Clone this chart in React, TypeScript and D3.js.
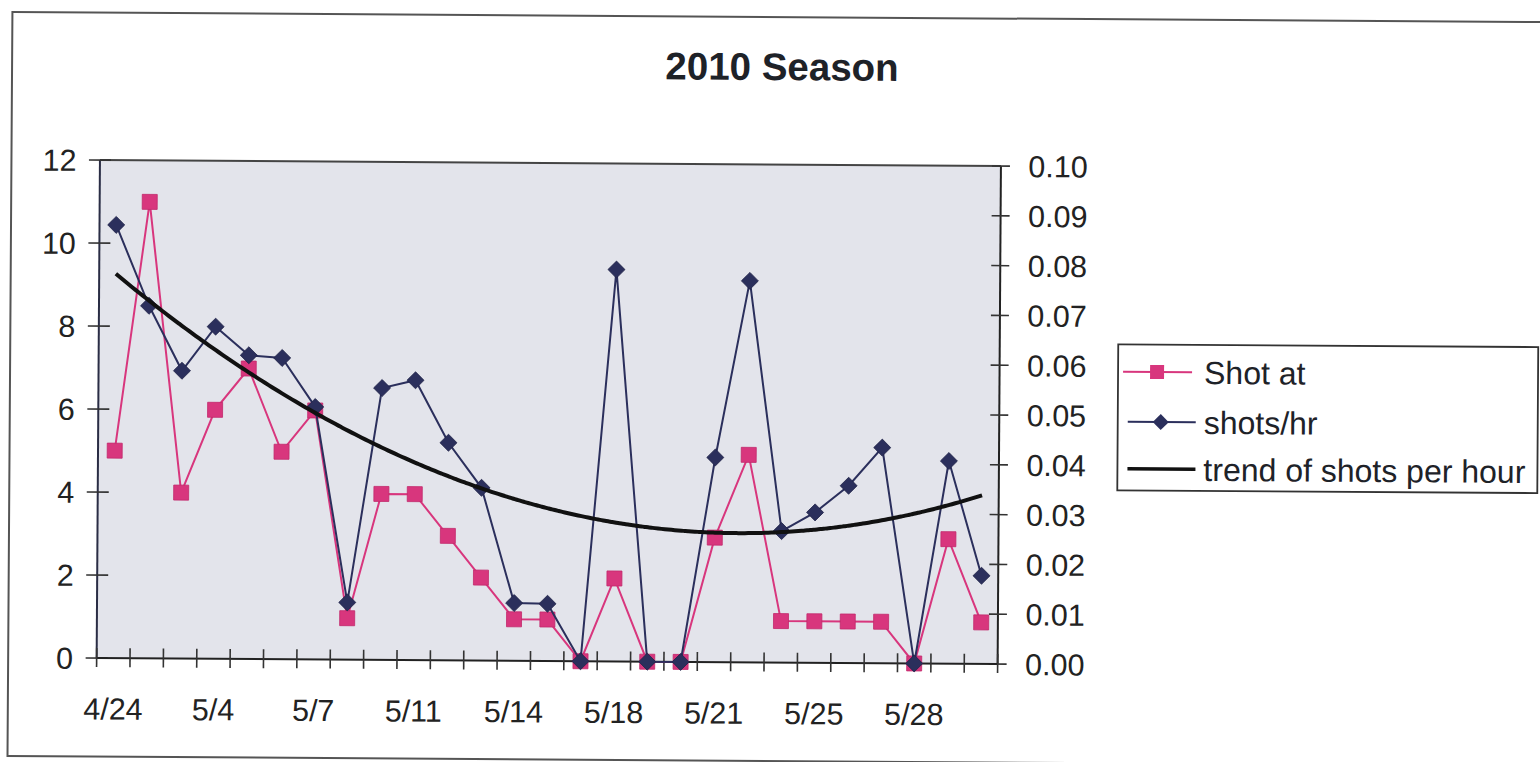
import React from "react";
import * as d3 from "d3";

const categories = [
  "4/24", "4/27", "5/1", "5/4", "5/5", "5/6", "5/7", "5/8", "5/10",
  "5/11", "5/12", "5/13", "5/14", "5/15", "5/17", "5/18", "5/19", "5/20",
  "5/21", "5/22", "5/24", "5/25", "5/26", "5/27", "5/28", "5/29", "5/30",
];
const shotAt = [5, 11, 4, 6, 7, 5, 6, 1, 4, 4, 3, 2, 1, 1, 0, 2, 0, 0, 3, 5, 1, 1, 1, 1, 0, 3, 1];
const shotsPerHour = [
  0.087, 0.0708, 0.0578, 0.0667, 0.061, 0.0605, 0.0507, 0.0115, 0.0546,
  0.0562, 0.0437, 0.0347, 0.0116, 0.0115, 0, 0.0787, 0, 0,
  0.0411, 0.0766, 0.0264, 0.0302, 0.0356, 0.0433, 0, 0.0407, 0.0177,
];
const leftTicks = [0, 2, 4, 6, 8, 10, 12];
const rightTicks = [0, 0.01, 0.02, 0.03, 0.04, 0.05, 0.06, 0.07, 0.08, 0.09, 0.1];
const labelEvery = 3;
const title = "2010 Season";
const legendLabels = ["Shot at", "shots/hr", "trend of shots per hour"];

// least-squares quadratic trendline (as Excel's polynomial order 2)
function quadFit(ys: number[]) {
  const n = ys.length;
  let s0 = 0, s1 = 0, s2 = 0, s3 = 0, s4 = 0, t0 = 0, t1 = 0, t2 = 0;
  ys.forEach((y, i) => {
    const x = i + 1;
    s0 += 1; s1 += x; s2 += x * x; s3 += x ** 3; s4 += x ** 4;
    t0 += y; t1 += x * y; t2 += x * x * y;
  });
  const A = [
    [s0, s1, s2, t0],
    [s1, s2, s3, t1],
    [s2, s3, s4, t2],
  ];
  for (let c = 0; c < 3; c++) {
    for (let r = c + 1; r < 3; r++) {
      const f = A[r][c] / A[c][c];
      for (let k = c; k < 4; k++) A[r][k] -= f * A[c][k];
    }
  }
  const sol = [0, 0, 0];
  for (let r = 2; r >= 0; r--) {
    let v = A[r][3];
    for (let k = r + 1; k < 3; k++) v -= A[r][k] * sol[k];
    sol[r] = v / A[r][r];
  }
  void n;
  return (x: number) => sol[0] + sol[1] * x + sol[2] * x * x;
}

const FONT = "'Liberation Sans', Arial, Helvetica, sans-serif";

export default function App() {
  const L = 98.5, R = 999.5, T = 164.5, B = 662.5;
  const x = d3.scaleBand<string>().domain(categories).range([L, R]).padding(0);
  const bw = x.bandwidth();
  const cx = (i: number) => (x(categories[i]) as number) + bw / 2;
  const yL = d3.scaleLinear().domain([0, 12]).range([B, T]);
  const yR = d3.scaleLinear().domain([0, 0.1]).range([B, T]);

  const pinkLine = d3.line<number>().x((_, i) => cx(i)).y((d) => yL(d))(shotAt) as string;
  const blueLine = d3.line<number>().x((_, i) => cx(i)).y((d) => yR(d))(shotsPerHour) as string;
  const f = quadFit(shotsPerHour);
  const xi = d3.scaleLinear().domain([0, categories.length - 1]).range([cx(0), cx(categories.length - 1)]);
  const samples = d3.range(0, categories.length - 1 + 0.001, 0.1);
  const trendLine = d3.line<number>().x((t) => xi(t)).y((t) => yR(f(t + 1))).curve(d3.curveMonotoneX)(samples) as string;

  const pink = "#d8367d";
  const navy = "#2b2f5c";
  const sq = 15;
  const dm = 8.5;
  const diamond = (px: number, py: number, s = dm) =>
    `M${px},${py - s}L${px + s},${py}L${px},${py + s}L${px - s},${py}Z`;

  const boundaries = d3.range(categories.length + 1).map((i) => L + i * bw);

  const lgX = 1118, lgY = 342, lgW = 420, lgH = 146;
  const rows = [369.5, 419.5, 466.5];

  return (
    <svg
      width={1540}
      height={762}
      style={{ position: "absolute", left: 0, top: 0, background: "#fff" }}
      fontFamily={FONT}
    >
      <g transform="rotate(0.38 770 381)">
        {/* outer chart border */}
        <rect x={10} y={17} width={1600} height={744} fill="#fff" stroke="#555" strokeWidth={2} />

        <text x={780} y={80} textAnchor="middle" fontSize={38.5} fontWeight="bold" fill="#1e2228">
          {title}
        </text>

        {/* plot area */}
        <rect x={L} y={T} width={R - L} height={B - T} fill="#e3e4eb" />
        <line x1={L} y1={T} x2={R} y2={T} stroke="#444" strokeWidth={2} />

        {/* left axis */}
        <line x1={L} y1={T} x2={L} y2={B} stroke="#2a2d45" strokeWidth={2} />
        {leftTicks.map((v) => (
          <g key={"l" + v}>
            <line x1={L - 11} x2={L + 11} y1={yL(v)} y2={yL(v)} stroke="#333" strokeWidth={1.6} />
            <text x={75} y={yL(v)} dy="0.36em" textAnchor="end" fontSize={30.5} fill="#222">
              {v}
            </text>
          </g>
        ))}

        {/* right axis */}
        <line x1={R} y1={T} x2={R} y2={B} stroke="#222" strokeWidth={2} />
        {rightTicks.map((v) => (
          <g key={"r" + v}>
            <line x1={R - 9} x2={R + 9} y1={yR(v)} y2={yR(v)} stroke="#333" strokeWidth={1.6} />
            <text x={1027} y={yR(v)} dy="0.36em" textAnchor="start" fontSize={30.5} fill="#222">
              {v.toFixed(2)}
            </text>
          </g>
        ))}

        {/* bottom axis */}
        <line x1={L} y1={B} x2={R} y2={B} stroke="#222" strokeWidth={2} />
        {boundaries.map((bx, i) => (
          <line key={"b" + i} x1={bx} x2={bx} y1={B - 10} y2={B + 9} stroke="#333" strokeWidth={1.6} />
        ))}
        {categories.map((c, i) =>
          i % labelEvery === 0 ? (
            <text key={"c" + i} x={cx(i)} y={724} textAnchor="middle" fontSize={30.5} fill="#222">
              {c}
            </text>
          ) : null
        )}

        {/* series */}
        <path d={pinkLine} fill="none" stroke={pink} strokeWidth={2} />
        {shotAt.map((v, i) => (
          <rect key={"p" + i} x={cx(i) - sq / 2} y={yL(v) - sq / 2} width={sq} height={sq} fill={pink} stroke="#c2286c" strokeWidth={0.8} />
        ))}
        <path d={blueLine} fill="none" stroke={navy} strokeWidth={2} />
        {shotsPerHour.map((v, i) => (
          <path key={"d" + i} d={diamond(cx(i), yR(v))} fill={navy} stroke="#1f2247" strokeWidth={0.8} />
        ))}
        <path d={trendLine} fill="none" stroke="#111" strokeWidth={4} />

        {/* legend */}
        <rect x={lgX} y={lgY} width={lgW} height={lgH} fill="#fff" stroke="#333" strokeWidth={1.8} />
        <line x1={1123} x2={1192} y1={rows[0]} y2={rows[0]} stroke={pink} strokeWidth={2} />
        <rect x={1157 - 7} y={rows[0] - 7} width={14} height={14} fill={pink} />
        <line x1={1128} x2={1196} y1={rows[1]} y2={rows[1]} stroke={navy} strokeWidth={2} />
        <path d={diamond(1161, rows[1], 8)} fill={navy} />
        <line x1={1128} x2={1196} y1={rows[2]} y2={rows[2]} stroke="#111" strokeWidth={3.5} />
        {legendLabels.map((t, i) => (
          <text key={"lg" + i} x={1204} y={rows[i]} dy="0.36em" fontSize={32} fill="#1e2228">
            {t}
          </text>
        ))}
      </g>
    </svg>
  );
}
